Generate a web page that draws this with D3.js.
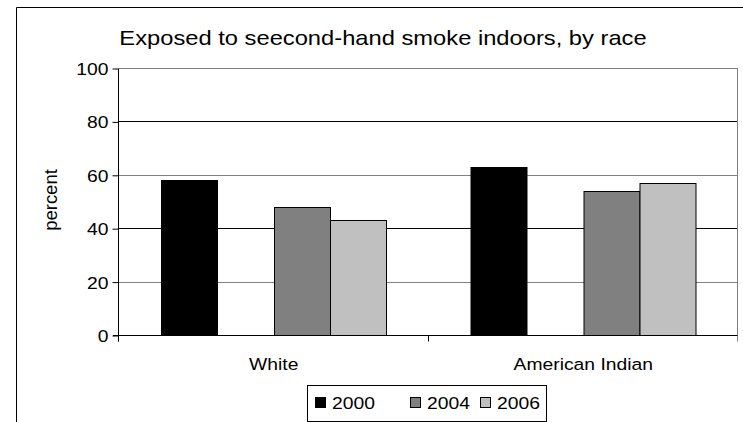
<!DOCTYPE html>
<html>
<head>
<meta charset="utf-8">
<script src="https://cdn.jsdelivr.net/npm/d3@7"></script>
<style>
  html, body { margin: 0; padding: 0; background: #fff; }
  svg { display: block; }
  text { font-family: "Liberation Sans", Arial, sans-serif; fill: #000; }
</style>
</head>
<body>
<svg id="chart" width="743" height="422"></svg>
<script>
// ---- data ----
const title = "Exposed to seecond-hand smoke indoors, by race";
const yLabel = "percent";
const categories = ["White", "American Indian"];
const slots = ["2000", "", "2004", "2006"]; // blank slot is an empty series position
const series = ["2000", "2004", "2006"];
const values2000 = [58, 63];
const values2004 = [48, 54];
const values2006 = [43, 57];
const yTicks = [0, 20, 40, 60, 80, 100];
const colors = ["#000000", "#808080", "#C0C0C0"];

const seriesValues = [values2000, values2004, values2006];

// ---- layout ----
const W = 743, H = 422;
const plot = { left: 119, right: 738, top: 68, bottom: 335 };
const SX = 1.17; // horizontal text stretch of the original picture

const svg = d3.select("#chart");

function stretchedText(parent, x, y, str, size, anchor, sx, rotate) {
  const s = sx == null ? SX : sx;
  const g = parent.append("g")
    .attr("transform", `translate(${x},${y})` + (rotate ? ` rotate(${rotate}) scale(1,${s})` : ` scale(${s},1)`));
  return g.append("text")
    .attr("font-size", size)
    .attr("text-anchor", anchor || "start")
    .text(str);
}

// outer frame
svg.append("path")
  .attr("d", `M16.5,${H} L16.5,7.5 L${W},7.5`)
  .attr("fill", "none").attr("stroke", "#000").attr("stroke-width", 1);

// scales
const y = d3.scaleLinear().domain([0, 100]).range([plot.bottom, plot.top]);
const x0 = d3.scaleBand().domain(categories).range([plot.left, plot.right]).paddingInner(0).paddingOuter(0);
const x1 = d3.scaleBand().domain(slots).range([0, x0.bandwidth()]).paddingInner(0).paddingOuter(0.75);

// gridlines
svg.append("g").selectAll("line")
  .data(yTicks.filter(d => d > 0))
  .join("line")
  .attr("x1", plot.left).attr("x2", plot.right)
  .attr("y1", d => Math.round(y(d)) + 0.5).attr("y2", d => Math.round(y(d)) + 0.5)
  .attr("stroke", d => (d === 80 || d === 40) ? "#000" : "#808080")
  .attr("stroke-width", 1);

// plot right border
svg.append("line")
  .attr("x1", plot.right - 0.5).attr("x2", plot.right - 0.5)
  .attr("y1", Math.round(y(100)) + 0.5).attr("y2", plot.bottom + 6)
  .attr("stroke", "#808080");

// bars
const groups = svg.append("g").selectAll("g")
  .data(categories)
  .join("g")
  .attr("transform", d => `translate(${x0(d)},0)`);

groups.selectAll("rect")
  .data((c, ci) => series.map((s, si) => ({ s, si, v: seriesValues[si][ci] })))
  .join("rect")
  .attr("x", d => Math.round(x1(d.s)) + 0.5)
  .attr("y", d => Math.round(y(d.v)) + 0.5)
  .attr("width", d => Math.round(x1.bandwidth()))
  .attr("height", d => Math.round(y(0)) - Math.round(y(d.v)))
  .attr("fill", d => colors[d.si])
  .attr("stroke", "#000")
  .attr("stroke-width", 1);

// y axis
const yAxis = svg.append("g")
  .attr("transform", `translate(${plot.left - 0.5},0.5)`)
  .call(d3.axisLeft(y).tickValues(yTicks).tickSize(6).tickPadding(8).tickFormat(d3.format("d")));
yAxis.select(".domain").attr("d", `M0,${Math.round(y(100))}V${plot.bottom + 6}`).attr("stroke", "#000");
yAxis.selectAll(".tick line").attr("stroke", "#000");
yAxis.selectAll(".tick text").remove();
yAxis.selectAll(".tick").each(function (d) {
  stretchedText(d3.select(this), -10, 6, String(d), 16.5, "end");
});

// x axis
const xAxis = svg.append("g")
  .attr("transform", `translate(0,${Math.round(y(0)) + 0.5})`);
xAxis.append("line")
  .attr("x1", plot.left - 6).attr("x2", plot.right)
  .attr("stroke", "#000");
const boundaries = categories.map(c => x0(c)).concat([x0(categories[categories.length - 1]) + x0.bandwidth()]);
xAxis.selectAll("line.tk")
  .data(boundaries)
  .join("line")
  .attr("class", "tk")
  .attr("x1", d => Math.round(d) - 0.5).attr("x2", d => Math.round(d) - 0.5)
  .attr("y1", 0).attr("y2", 6)
  .attr("stroke", d => d === boundaries[boundaries.length - 1] ? "#808080" : "#000");
categories.forEach(c => {
  stretchedText(svg, x0(c) + x0.bandwidth() / 2, 370, c, 16.5, "middle");
});

// y label
stretchedText(svg, 57, 200, yLabel, 18.5, "middle", 0.95, -90);

// title
stretchedText(svg, 383, 45, title, 21, "middle", 1.13);

// legend
const legend = svg.append("g");
legend.append("rect")
  .attr("x", 307.5).attr("y", 385.5).attr("width", 239).attr("height", 36)
  .attr("fill", "#fff").attr("stroke", "#000");
const legendX = [315, 410, 480];
series.forEach((s, i) => {
  const lx = legendX[i];
  legend.append("rect")
    .attr("x", lx + 0.5).attr("y", 397.5).attr("width", 10).attr("height", 10)
    .attr("fill", colors[i]).attr("stroke", "#000");
  stretchedText(legend, lx + 17, 408.5, s, 16.5, "start");
});
</script>
</body>
</html>
